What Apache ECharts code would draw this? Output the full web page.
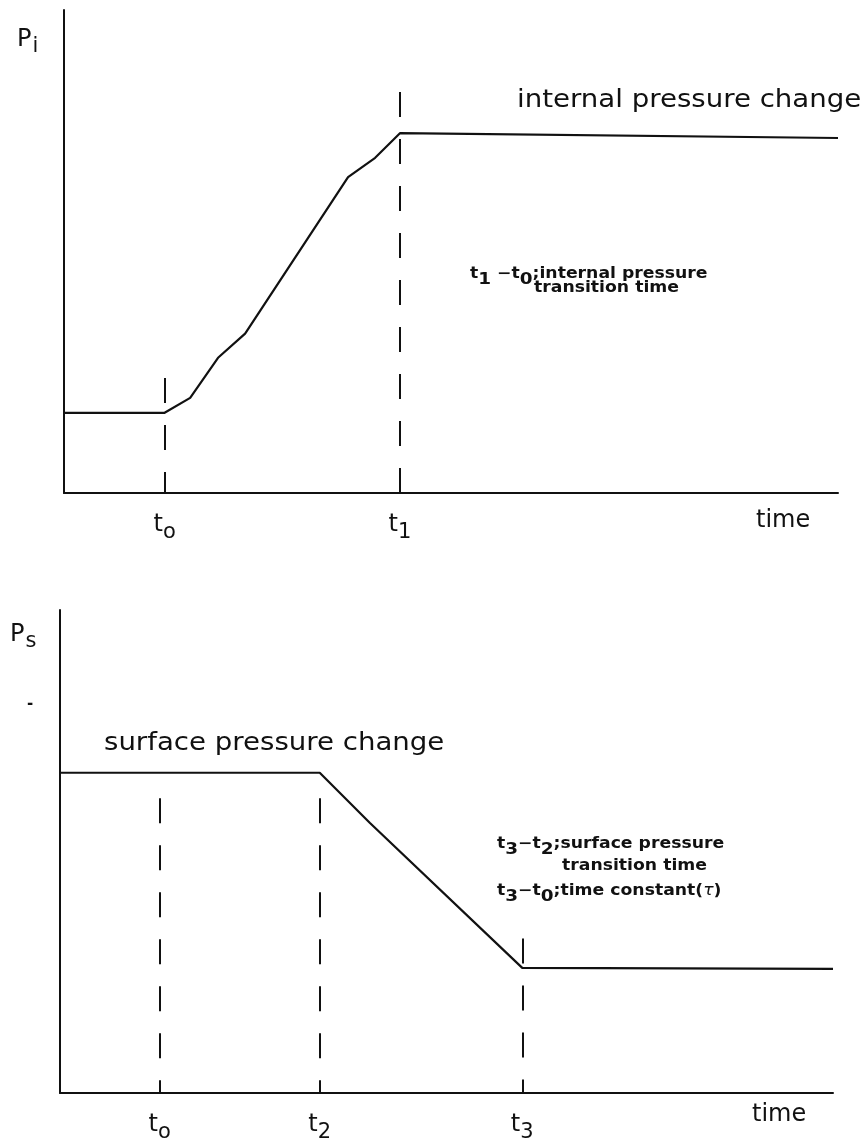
<!DOCTYPE html>
<html><head><meta charset="utf-8">
<script src="https://cdn.jsdelivr.net/npm/echarts@6/dist/echarts.min.js"></script>
<style>html,body{margin:0;padding:0;background:#fff}#c{width:867px;height:1143px}</style>
</head><body><div id="c"></div>
<script>
// Internal pressure response (upper panel), time and pressure in relative units
const timeInt = [0, 13.0, 16.3, 19.9, 23.4, 36.7, 40.2, 43.4, 100];
const presInt = [16.6, 16.6, 19.7, 28.0, 33.0, 65.4, 69.4, 74.5, 73.5];
// event times on the upper panel: subscript label, time, top of the dashed guide
const eventSubInt = ['o', '1'];
const eventTimeInt = [13.0, 43.4];
const eventTopInt = [23.8, 83];

// Surface pressure response (lower panel)
const timeSurf = [0, 33.6, 40.1, 59.8, 100];
const presSurf = [66.3, 66.3, 55.9, 25.9, 25.7];
const eventSubSurf = ['o', '2', '3'];
const eventTimeSurf = [12.9, 33.6, 59.8];
const eventTopSurf = [61, 61, 32];

const INK = '#111';
const FONT = 'DejaVu Sans';
const WIDE = 1.15; // horizontal stretch of the lettering

function pairs(xs, ys) { return xs.map((x, i) => [x, ys[i]]); }

function guides(times, tops) {
  return times.map((t, i) => [{ coord: [t, tops[i]] }, { coord: [t, 0] }]);
}

function tickLabel(times, subs) {
  return {
    show: true,
    customValues: times,
    margin: 13,
    formatter: v => {
      const i = times.indexOf(v);
      return '{t|t}{s|' + subs[i] + '}';
    },
    rich: {
      t: { fontFamily: FONT, fontSize: 24, color: INK },
      s: { fontFamily: FONT, fontSize: 21, color: INK, padding: [16, 0, 0, 0] }
    }
  };
}

function xAxisFor(grid, times, subs) {
  return {
    type: 'value', gridIndex: grid, min: 0, max: 100,
    axisLine: { show: true, onZero: false, lineStyle: { color: INK, width: 2 } },
    axisTick: { show: false },
    splitLine: { show: false },
    axisLabel: tickLabel(times, subs)
  };
}

function yAxisFor(grid) {
  return {
    type: 'value', gridIndex: grid, min: 0, max: 100,
    axisLine: { show: true, lineStyle: { color: INK, width: 2 } },
    axisTick: { show: false },
    axisLabel: { show: false },
    splitLine: { show: false }
  };
}

function lineSeries(idx, xs, ys, times, tops) {
  return {
    type: 'line', xAxisIndex: idx, yAxisIndex: idx,
    data: pairs(xs, ys),
    symbol: 'none', silent: true,
    lineStyle: { color: INK, width: 2.2 },
    markLine: {
      silent: true, symbol: 'none', animation: false,
      label: { show: false },
      lineStyle: { color: INK, width: 2, type: [25, 22] },
      data: guides(times, tops)
    }
  };
}

const subRich = (size, drop) => ({
  m: { fontFamily: FONT, fontSize: size, fontWeight: 'bold', fill: INK },
  s: { fontFamily: FONT, fontSize: size + 1, fontWeight: 'bold', fill: INK, padding: [drop, 0, 0, 0] },
  i: { fontFamily: FONT, fontSize: size, fontStyle: 'italic', fill: INK }
});

function label(x, y, text, size, extra) {
  return {
    type: 'text', x: x, y: y, scaleX: WIDE, silent: true,
    style: Object.assign({ text: text, fontFamily: FONT, fontSize: size, fill: INK, verticalAlign: 'top' }, extra || {})
  };
}

function richLabel(x, y, text, rich) {
  return {
    type: 'text', x: x, y: y, scaleX: WIDE, silent: true,
    style: { text: text, rich: rich, verticalAlign: 'top' }
  };
}

const axisNameRich = {
  p: { fontFamily: FONT, fontSize: 24, fill: INK },
  s: { fontFamily: FONT, fontSize: 21, fill: INK, padding: [14, 0, 0, 1] }
};

const option = {
  animation: false,
  backgroundColor: '#fff',
  grid: [
    { left: 64, top: 10, width: 774, height: 483 },
    { left: 60, top: 610, width: 773, height: 483 }
  ],
  xAxis: [xAxisFor(0, eventTimeInt, eventSubInt), xAxisFor(1, eventTimeSurf, eventSubSurf)],
  yAxis: [yAxisFor(0), yAxisFor(1)],
  series: [
    lineSeries(0, timeInt, presInt, eventTimeInt, eventTopInt),
    lineSeries(1, timeSurf, presSurf, eventTimeSurf, eventTopSurf)
  ],
  graphic: [
    // axis names
    { type: 'text', x: 17, y: 22, silent: true, style: { text: '{p|P}{s|i}', rich: axisNameRich, verticalAlign: 'top' } },
    { type: 'text', x: 10, y: 617, silent: true, style: { text: '{p|P}{s|s}', rich: axisNameRich, verticalAlign: 'top' } },
    { type: 'text', x: 27, y: 697, silent: true, style: { text: '-', fontFamily: FONT, fontSize: 15, fontWeight: 'bold', fill: INK, verticalAlign: 'top' } },
    { type: 'text', x: 756, y: 509, silent: true, style: { text: 'time', fontFamily: FONT, fontSize: 24, fill: INK, verticalAlign: 'top' } },
    { type: 'text', x: 752, y: 1103, silent: true, style: { text: 'time', fontFamily: FONT, fontSize: 24, fill: INK, verticalAlign: 'top' } },
    // curve titles
    label(517, 89, 'internal pressure change', 24),
    label(104, 732, 'surface pressure change', 24),
    // definitions
    richLabel(470, 260, '{m|t}{s|1}{m| −t}{s|0}{m|;internal pressure}', subRich(15, 12)),
    label(534, 281, 'transition time', 15, { fontWeight: 'bold' }),
    richLabel(497, 830, '{m|t}{s|3}{m|−t}{s|2}{m|;surface pressure}', subRich(15, 12)),
    label(562, 859, 'transition time', 15, { fontWeight: 'bold' }),
    richLabel(497, 877, '{m|t}{s|3}{m|−t}{s|0}{m|;time constant(}{i|τ}{m|)}', subRich(15, 12))
  ]
};

const chart = echarts.init(document.getElementById('c'), null, { renderer: 'canvas' });
chart.setOption(option);
</script>
</body></html>
